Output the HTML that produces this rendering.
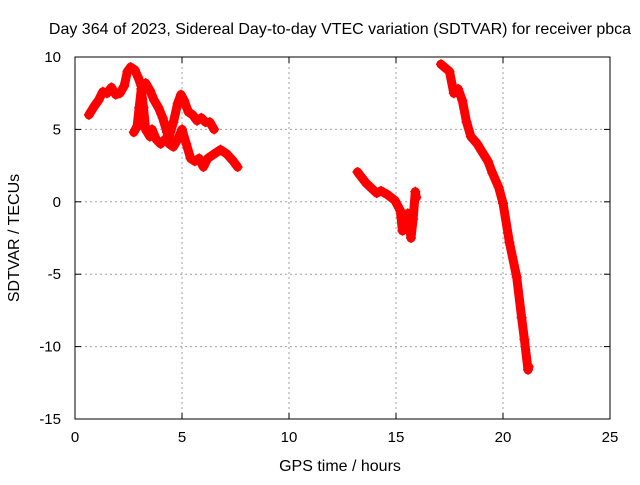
<!DOCTYPE html>
<html><head><meta charset="utf-8"><style>
body{margin:0;background:#fff;}
svg text{font-family:"Liberation Sans",sans-serif;font-size:15px;fill:#000;}
svg text.big{font-size:16px;}
</style></head><body>
<svg id="chart" width="640" height="480" xmlns="http://www.w3.org/2000/svg">
<text class="big" x="340" y="34" text-anchor="middle">Day 364 of 2023, Sidereal Day-to-day VTEC variation (SDTVAR) for receiver pbca</text>
<g id="grid"></g><g id="series"></g><g id="axes"></g>
<text class="big" x="340" y="471" text-anchor="middle">GPS time / hours</text>
<text class="big" transform="translate(19,238) rotate(-90)" text-anchor="middle">SDTVAR / TECUs</text>
</svg>
<script>
const xTicks=[0,5,10,15,20,25];
const yTicks=[10,5,0,-5,-10,-15];
const seg1T=[0.65,0.9,1.1,1.3,1.5,1.7,1.9,2.1,2.3,2.45,2.6,2.8,2.95,3.1,3.3,3.5,3.7,3.9,4.1,4.3,4.4,4.6,4.8,5.0,5.2,5.4,5.6,5.8,6.0,6.2,6.5,6.8,7.1,7.4,7.6];
const seg1V=[6.0,6.6,7.0,7.6,7.5,7.9,7.4,7.5,8.0,9.0,9.3,9.1,8.6,8.0,8.2,7.7,7.0,6.5,5.8,4.8,4.0,3.8,4.3,5.0,4.0,3.0,2.8,3.0,2.4,3.0,3.3,3.6,3.3,2.8,2.4];
const seg2T=[2.75,2.9,3.0,3.1,3.2,3.3,3.5,3.6,3.8,4.0,4.2,4.4,4.6,4.8,4.95,5.1,5.3,5.5,5.7,5.9,6.1,6.3,6.5];
const seg2V=[4.8,5.2,6.5,7.8,6.5,5.0,4.5,5.0,4.3,4.0,4.3,4.5,5.5,6.8,7.4,7.0,6.2,6.0,5.6,5.8,5.5,5.5,5.0];
const seg3T=[13.2,13.6,14.1,14.3,14.6,14.95,15.2,15.3,15.45,15.55,15.7,15.8,15.9,15.95];
const seg3V=[2.06,1.3,0.6,0.75,0.5,0.1,-0.6,-2.0,-1.7,-0.8,-2.5,-1.2,0.7,0.3];
const seg4T=[17.1,17.5,17.7,17.9,18.1,18.3,18.5,18.8,19.0,19.3,19.5,19.8,20.0,20.3,20.64,20.87,21.0,21.17,21.2];
const seg4V=[9.5,9.0,7.5,7.8,7.0,5.5,4.5,4.0,3.5,2.8,2.0,1.0,-0.1,-2.8,-5.2,-8.0,-9.5,-11.6,-11.4];
const X0=75,X1=610,Y0=57,Y1=419;
const sx=t=>X0+(t-0)/(25-0)*(X1-X0);
const sy=v=>Y0+(10-v)/(10-(-15))*(Y1-Y0);
const NS="http://www.w3.org/2000/svg";
function mk(tag,attrs,parent){const e=document.createElementNS(NS,tag);for(const k in attrs)e.setAttribute(k,attrs[k]);parent.appendChild(e);return e;}
const grid=document.getElementById('grid'),axes=document.getElementById('axes'),ser=document.getElementById('series');
xTicks.forEach(t=>{
  if(t>0&&t<25){const g=mk('line',{x1:sx(t),x2:sx(t),y1:Y0,y2:Y1,stroke:'#a0a0a0','stroke-dasharray':'2,3'},grid);
  
  }
  const l=mk('text',{x:sx(t),y:Y1+23,'text-anchor':'middle'},axes);l.textContent=t;
  
  
  mk('line',{x1:sx(t),x2:sx(t),y1:Y1,y2:Y1-6,stroke:'#000'},axes);
  mk('line',{x1:sx(t),x2:sx(t),y1:Y0,y2:Y0+6,stroke:'#000'},axes);
});
yTicks.forEach(v=>{
  if(v<10&&v>-15){const g=mk('line',{x1:X0,x2:X1,y1:sy(v),y2:sy(v),stroke:'#a0a0a0','stroke-dasharray':'2,3'},grid);
  
  }
  const l=mk('text',{x:X0-14,y:sy(v)+5,'text-anchor':'end'},axes);l.textContent=v;
  
  
  mk('line',{x1:X0,x2:X0+6,y1:sy(v),y2:sy(v),stroke:'#000'},axes);
  mk('line',{x1:X1,x2:X1-6,y1:sy(v),y2:sy(v),stroke:'#000'},axes);
});
const fr=mk('rect',{x:X0,y:Y0,width:X1-X0,height:Y1-Y0,fill:'none',stroke:'#000'},axes);


[[seg1T,seg1V],[seg2T,seg2V],[seg3T,seg3V],[seg4T,seg4V]].forEach(([T,V],i)=>{
  const d=T.map((t,j)=>(j?'L':'M')+sx(t).toFixed(1)+' '+sy(V[j]).toFixed(1)).join(' ');
  const p=mk('path',{d:d,fill:'none',stroke:'#ff0000','stroke-width':9,'stroke-linejoin':'round','stroke-linecap':'round'},ser);
  
  
  T.forEach((t,j)=>{
    const x=sx(t),y=sy(V[j]);
    const m=mk('path',{d:`M${x-5} ${y}H${x+5}M${x} ${y-5}V${y+5}`,stroke:'#ff0000','stroke-width':1.5},ser);
    
    
  });
});
</script>
</body></html>
